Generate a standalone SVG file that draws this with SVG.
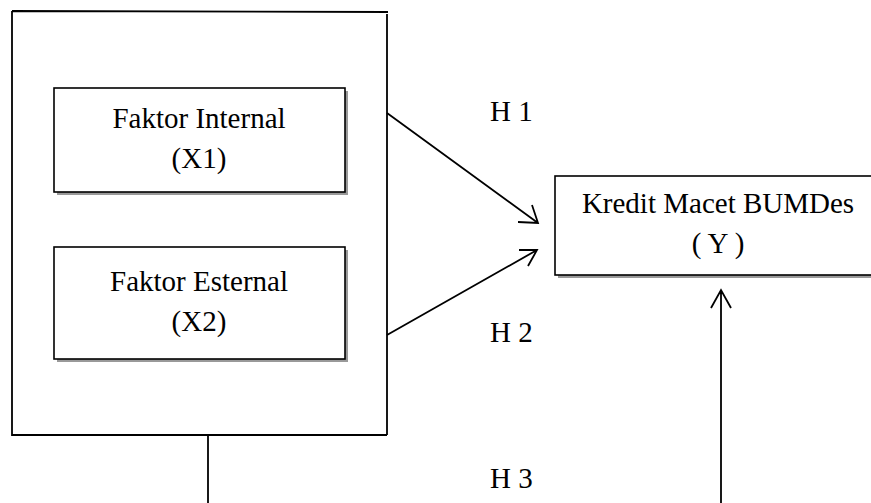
<svg xmlns="http://www.w3.org/2000/svg" width="871" height="503" viewBox="0 0 871 503">
<style>
.box{fill:#fff;stroke:#000;stroke-width:1.6}
.shadow{fill:#999}
.t{font-family:"Liberation Serif","Times New Roman",serif;font-size:29px;fill:#000}
.m{text-anchor:middle}
.ln{stroke:#000;stroke-width:1.8;fill:none}
</style>
<rect width="871" height="503" fill="#fff"/>
<g id="outer">
<path class="ln" d="M12,11 L388,12 M387,14 L387,435 M12,11 L12,435 L387,435"/>
</g>
<g id="x1">
<rect class="shadow" x="57" y="91" width="291" height="104"/>
<rect class="box" x="54" y="88" width="291" height="104"/>
<text class="t m" x="199" y="128">Faktor Internal</text>
<text class="t m" x="199" y="168">(X1)</text>
</g>
<g id="x2">
<rect class="shadow" x="57" y="250" width="291" height="112"/>
<rect class="box" x="54" y="247" width="291" height="112"/>
<text class="t m" x="199" y="291">Faktor Esternal</text>
<text class="t m" x="199" y="331">(X2)</text>
</g>
<g id="y">
<rect class="shadow" x="558" y="179" width="320" height="99"/>
<rect class="box" x="555" y="176" width="320" height="99"/>
<text class="t m" x="718" y="213">Kredit Macet BUMDes</text>
<text class="t m" x="718" y="253">( Y )</text>
</g>
<g id="labels">
<text class="t" x="490" y="121">H 1</text>
<text class="t" x="490" y="342">H 2</text>
<text class="t" x="490" y="488">H 3</text>
</g>
<g id="connectors">
<path class="ln" d="M387,113 L538,223 M518,222 L538,223 L532,205"/>
<path class="ln" d="M387,335 L537,250 M519,250 L537,250 L528,266"/>
<path class="ln" d="M721,503 L721,290 M711,308 L721,290 L731,308"/>
<path class="ln" d="M208,435 L208,503"/>
</g>
</svg>
